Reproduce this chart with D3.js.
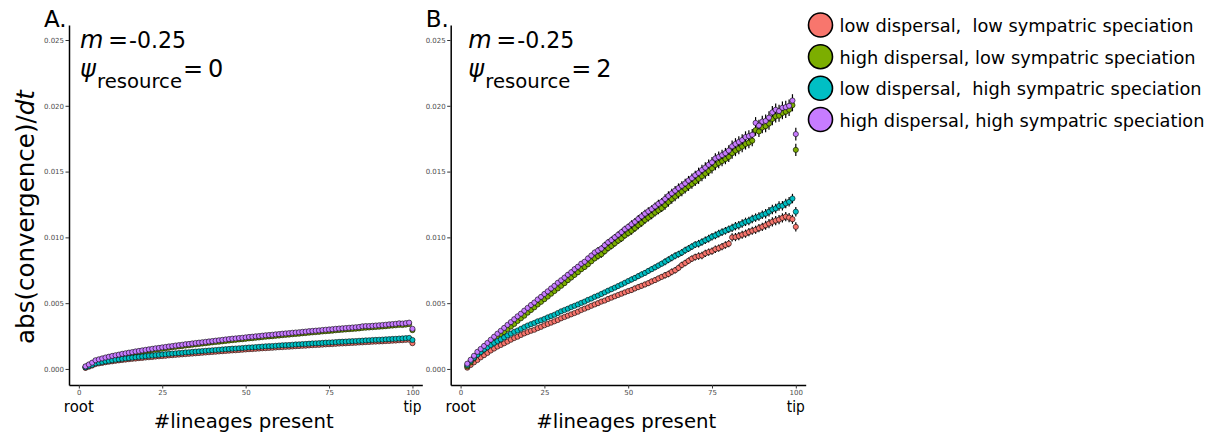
<!DOCTYPE html>
<html><head><meta charset="utf-8">
<script src="https://cdn.jsdelivr.net/npm/d3@7"></script>
<style>body{margin:0;background:#fff} svg text{font-family:"DejaVu Sans",sans-serif}</style>
</head><body><svg id="c" width="1211" height="437"></svg>
<script>
// ---- data ----
const lineages = [2,3,4,5,6,7,8,9,10,11,
12,13,14,15,16,17,18,19,20,21,
22,23,24,25,26,27,28,29,30,31,
32,33,34,35,36,37,38,39,40,41,
42,43,44,45,46,47,48,49,50,51,
52,53,54,55,56,57,58,59,60,61,
62,63,64,65,66,67,68,69,70,71,
72,73,74,75,76,77,78,79,80,81,
82,83,84,85,86,87,88,89,90,91,
92,93,94,95,96,97,98,99,100];

const seriesNames = ["low dispersal,  low sympatric speciation","high dispersal, low sympatric speciation","low dispersal,  high sympatric speciation","high dispersal, high sympatric speciation"];
const seriesColors = ["#F8766D","#7CAE00","#00BFC4","#C77CFF"];
const yTicks = [0,0.005,0.01,0.015,0.02,0.025];
const yTickLabels = ["0.000","0.005","0.010","0.015","0.020","0.025"];
const xTicks = [0,25,50,75,100];
const xTickLabels = ["0","25","50","75","100"];
const panelLabels = ["A.","B."];
const mValues = ["-0.25","-0.25"];
const psiValues = ["0","2"];

// Panel A (psi_resource = 0)
const A_lowDisp_lowSym = [0.00008,0.00017,0.00026,0.00037,0.00042,0.00046,0.00051,0.00055,0.00058,0.00062,
0.00065,0.00068,0.00071,0.00074,0.00077,0.00079,0.00082,0.00084,0.00087,0.00089,
0.00091,0.00094,0.00096,0.00098,0.00100,0.00103,0.00105,0.00107,0.00109,0.00111,
0.00113,0.00115,0.00117,0.00119,0.00121,0.00123,0.00125,0.00127,0.00129,0.00131,
0.00133,0.00135,0.00137,0.00139,0.00141,0.00142,0.00144,0.00146,0.00148,0.00150,
0.00151,0.00153,0.00155,0.00157,0.00158,0.00160,0.00161,0.00163,0.00165,0.00166,
0.00168,0.00169,0.00171,0.00173,0.00174,0.00176,0.00177,0.00179,0.00181,0.00182,
0.00183,0.00185,0.00187,0.00188,0.00189,0.00191,0.00193,0.00194,0.00195,0.00197,
0.00198,0.00199,0.00201,0.00202,0.00204,0.00205,0.00207,0.00208,0.00209,0.00210,
0.00212,0.00213,0.00215,0.00216,0.00218,0.00219,0.00221,0.00222,0.00196];
const A_highDisp_lowSym = [0.00016,0.00029,0.00042,0.00059,0.00066,0.00073,0.00080,0.00086,0.00092,0.00096,
0.00101,0.00106,0.00111,0.00115,0.00119,0.00124,0.00128,0.00132,0.00136,0.00140,
0.00144,0.00147,0.00151,0.00154,0.00158,0.00161,0.00165,0.00168,0.00171,0.00174,
0.00178,0.00180,0.00184,0.00187,0.00190,0.00193,0.00196,0.00199,0.00202,0.00205,
0.00207,0.00210,0.00213,0.00216,0.00219,0.00221,0.00224,0.00226,0.00229,0.00232,
0.00234,0.00237,0.00239,0.00242,0.00245,0.00247,0.00249,0.00252,0.00254,0.00257,
0.00259,0.00261,0.00264,0.00266,0.00268,0.00271,0.00273,0.00276,0.00278,0.00280,
0.00282,0.00285,0.00287,0.00289,0.00291,0.00294,0.00296,0.00298,0.00300,0.00302,
0.00304,0.00306,0.00308,0.00312,0.00314,0.00315,0.00317,0.00319,0.00321,0.00323,
0.00325,0.00328,0.00330,0.00332,0.00335,0.00334,0.00337,0.00341,0.00295];
const A_lowDisp_highSym = [0.00012,0.00022,0.00031,0.00043,0.00048,0.00053,0.00058,0.00062,0.00066,0.00070,
0.00073,0.00077,0.00080,0.00083,0.00086,0.00089,0.00092,0.00094,0.00097,0.00100,
0.00102,0.00105,0.00107,0.00110,0.00112,0.00115,0.00117,0.00119,0.00121,0.00123,
0.00126,0.00127,0.00130,0.00132,0.00134,0.00136,0.00138,0.00140,0.00142,0.00144,
0.00146,0.00148,0.00150,0.00152,0.00154,0.00155,0.00157,0.00159,0.00161,0.00163,
0.00164,0.00166,0.00168,0.00170,0.00172,0.00173,0.00174,0.00176,0.00178,0.00180,
0.00181,0.00182,0.00184,0.00186,0.00187,0.00189,0.00190,0.00192,0.00194,0.00195,
0.00196,0.00198,0.00200,0.00201,0.00202,0.00204,0.00206,0.00207,0.00208,0.00210,
0.00211,0.00212,0.00214,0.00215,0.00217,0.00218,0.00220,0.00221,0.00222,0.00223,
0.00225,0.00226,0.00228,0.00229,0.00231,0.00232,0.00234,0.00236,0.00220];
const A_highDisp_highSym = [0.00020,0.00034,0.00048,0.00066,0.00073,0.00080,0.00087,0.00093,0.00099,0.00104,
0.00109,0.00115,0.00119,0.00124,0.00128,0.00133,0.00137,0.00141,0.00145,0.00149,
0.00153,0.00157,0.00160,0.00164,0.00167,0.00171,0.00174,0.00178,0.00181,0.00184,
0.00188,0.00190,0.00194,0.00197,0.00200,0.00203,0.00206,0.00209,0.00212,0.00215,
0.00218,0.00221,0.00224,0.00227,0.00230,0.00232,0.00235,0.00237,0.00240,0.00243,
0.00245,0.00248,0.00250,0.00253,0.00256,0.00258,0.00260,0.00263,0.00265,0.00268,
0.00270,0.00272,0.00275,0.00277,0.00279,0.00282,0.00284,0.00287,0.00289,0.00291,
0.00293,0.00296,0.00298,0.00300,0.00302,0.00305,0.00307,0.00309,0.00311,0.00313,
0.00315,0.00317,0.00319,0.00324,0.00326,0.00326,0.00328,0.00330,0.00332,0.00334,
0.00336,0.00339,0.00341,0.00343,0.00347,0.00345,0.00348,0.00352,0.00305];

// Panel B (psi_resource = 2)
const B_lowDisp_lowSym = [0.00010,0.00030,0.00050,0.00068,0.00088,0.00105,0.00122,0.00140,0.00155,0.00170,
0.00182,0.00195,0.00208,0.00222,0.00235,0.00245,0.00258,0.00270,0.00280,0.00290,
0.00298,0.00310,0.00320,0.00332,0.00342,0.00352,0.00362,0.00372,0.00385,0.00395,
0.00405,0.00415,0.00425,0.00435,0.00448,0.00458,0.00468,0.00480,0.00490,0.00500,
0.00512,0.00520,0.00532,0.00542,0.00552,0.00562,0.00572,0.00582,0.00592,0.00600,
0.00612,0.00622,0.00632,0.00642,0.00652,0.00665,0.00675,0.00688,0.00700,0.00712,
0.00722,0.00738,0.00750,0.00768,0.00790,0.00805,0.00822,0.00838,0.00850,0.00858,
0.00862,0.00878,0.00888,0.00895,0.00910,0.00918,0.00930,0.00942,0.00952,0.01000,
0.01002,0.01010,0.01020,0.01028,0.01040,0.01050,0.01058,0.01070,0.01080,0.01092,
0.01105,0.01118,0.01128,0.01135,0.01148,0.01158,0.01150,0.01138,0.01080];
const B_highDisp_lowSym = [0.00020,0.00050,0.00080,0.00110,0.00130,0.00152,0.00175,0.00195,0.00218,0.00240,
0.00260,0.00280,0.00303,0.00322,0.00342,0.00365,0.00385,0.00405,0.00428,0.00448,
0.00468,0.00490,0.00510,0.00530,0.00550,0.00572,0.00592,0.00612,0.00632,0.00652,
0.00675,0.00695,0.00715,0.00735,0.00758,0.00775,0.00795,0.00818,0.00840,0.00858,
0.00872,0.00895,0.00918,0.00935,0.00955,0.00975,0.00992,0.01015,0.01032,0.01050,
0.01070,0.01092,0.01110,0.01132,0.01150,0.01168,0.01188,0.01205,0.01222,0.01245,
0.01268,0.01290,0.01310,0.01330,0.01348,0.01368,0.01388,0.01405,0.01425,0.01445,
0.01465,0.01485,0.01505,0.01525,0.01550,0.01565,0.01580,0.01595,0.01612,0.01640,
0.01660,0.01675,0.01690,0.01710,0.01720,0.01735,0.01815,0.01805,0.01835,0.01845,
0.01865,0.01900,0.01920,0.01925,0.01945,0.01955,0.01970,0.02005,0.01665];
const B_lowDisp_highSym = [0.00030,0.00060,0.00085,0.00108,0.00128,0.00148,0.00165,0.00182,0.00198,0.00212,
0.00225,0.00240,0.00255,0.00268,0.00282,0.00292,0.00305,0.00318,0.00330,0.00340,
0.00350,0.00362,0.00370,0.00380,0.00392,0.00402,0.00412,0.00425,0.00438,0.00448,
0.00458,0.00470,0.00480,0.00490,0.00502,0.00512,0.00525,0.00535,0.00548,0.00558,
0.00570,0.00582,0.00595,0.00606,0.00618,0.00630,0.00642,0.00655,0.00668,0.00680,
0.00692,0.00705,0.00718,0.00730,0.00745,0.00758,0.00772,0.00786,0.00800,0.00815,
0.00830,0.00845,0.00860,0.00872,0.00885,0.00902,0.00915,0.00930,0.00945,0.00952,
0.00965,0.00978,0.00990,0.01005,0.01015,0.01028,0.01040,0.01050,0.01062,0.01072,
0.01085,0.01092,0.01105,0.01118,0.01125,0.01140,0.01150,0.01158,0.01172,0.01180,
0.01195,0.01212,0.01220,0.01238,0.01240,0.01258,0.01270,0.01295,0.01195];
const B_highDisp_highSym = [0.00040,0.00070,0.00100,0.00130,0.00152,0.00175,0.00198,0.00222,0.00245,0.00268,
0.00290,0.00312,0.00335,0.00356,0.00378,0.00400,0.00420,0.00443,0.00464,0.00486,
0.00505,0.00528,0.00548,0.00570,0.00590,0.00612,0.00632,0.00655,0.00674,0.00694,
0.00716,0.00735,0.00758,0.00777,0.00800,0.00815,0.00840,0.00862,0.00885,0.00900,
0.00915,0.00940,0.00962,0.00980,0.01000,0.01020,0.01040,0.01062,0.01080,0.01100,
0.01118,0.01140,0.01160,0.01180,0.01198,0.01215,0.01235,0.01255,0.01270,0.01292,
0.01315,0.01335,0.01355,0.01375,0.01392,0.01410,0.01432,0.01450,0.01472,0.01490,
0.01512,0.01530,0.01552,0.01570,0.01600,0.01612,0.01625,0.01640,0.01660,0.01692,
0.01710,0.01725,0.01740,0.01762,0.01770,0.01780,0.01870,0.01850,0.01880,0.01885,
0.01910,0.01950,0.01970,0.01960,0.01985,0.01990,0.02000,0.02040,0.01785];

// error half-widths, one value per block of ten lineages (1-10, 11-20, ..., 91-100)
const A_err_lowDisp_lowSym   = [0.00002,0.00003,0.00003,0.00004,0.00004,0.00005,0.00005,0.00006,0.00006,0.00007];
const A_err_highDisp_lowSym  = [0.00003,0.00004,0.00004,0.00005,0.00005,0.00006,0.00006,0.00007,0.00008,0.00009];
const A_err_lowDisp_highSym  = [0.00002,0.00003,0.00003,0.00004,0.00004,0.00005,0.00005,0.00006,0.00006,0.00007];
const A_err_highDisp_highSym = [0.00003,0.00004,0.00004,0.00005,0.00005,0.00006,0.00006,0.00007,0.00008,0.00009];
const B_err_lowDisp_lowSym   = [0.00006,0.00009,0.00012,0.00015,0.00018,0.00021,0.00025,0.00028,0.00031,0.00035];
const B_err_highDisp_lowSym  = [0.00008,0.00012,0.00017,0.00021,0.00026,0.00030,0.00035,0.00039,0.00043,0.00047];
const B_err_lowDisp_highSym  = [0.00006,0.00009,0.00012,0.00015,0.00018,0.00022,0.00026,0.00029,0.00032,0.00036];
const B_err_highDisp_highSym = [0.00008,0.00012,0.00017,0.00021,0.00026,0.00030,0.00035,0.00040,0.00044,0.00048];

// ---- drawing ----
const svg = d3.select("#c");
const yScale = d3.scaleLinear().domain([-0.00122, 0.02614]).range([385, 25]);

const panels = [
  {label: panelLabels[0], x0: 69, x1: 422.3, m: mValues[0], psi: psiValues[0],
   values: [A_lowDisp_lowSym, A_highDisp_lowSym, A_lowDisp_highSym, A_highDisp_highSym],
   errors: [A_err_lowDisp_lowSym, A_err_highDisp_lowSym, A_err_lowDisp_highSym, A_err_highDisp_highSym],
   annX: 80},
  {label: panelLabels[1], x0: 450.7, x1: 805.7, m: mValues[1], psi: psiValues[1],
   values: [B_lowDisp_lowSym, B_highDisp_lowSym, B_lowDisp_highSym, B_highDisp_highSym],
   errors: [B_err_lowDisp_lowSym, B_err_highDisp_lowSym, B_err_lowDisp_highSym, B_err_highDisp_highSym],
   annX: 468.3}
];

panels.forEach((p, pi) => {
  const x = d3.scaleLinear().domain([-2.95, 102.95]).range([p.x0, p.x1]);
  const g = svg.append("g");

  // axes
  const yAxis = d3.axisLeft(yScale).tickValues(yTicks).tickFormat((d, i) => yTickLabels[i])
    .tickSizeInner(3.5).tickSizeOuter(0).tickPadding(1.5);
  const ya = g.append("g").attr("transform", `translate(${p.x0},0)`).call(yAxis);
  const xAxis = d3.axisBottom(x).tickValues(xTicks).tickFormat((d, i) => xTickLabels[i])
    .tickSizeInner(3.5).tickSizeOuter(0).tickPadding(1);
  const xa = g.append("g").attr("transform", `translate(0,385)`).call(xAxis);
  [ya, xa].forEach(a => {
    a.select(".domain").attr("stroke", "#000").attr("stroke-width", 1.5);
    a.selectAll(".tick line").attr("stroke", "#333").attr("stroke-width", 1);
    a.selectAll(".tick text").attr("fill", "#4D4D4D").style("font-size", "7px")
      .style("font-family", "DejaVu Sans, sans-serif");
  });
  xa.selectAll(".tick text").attr("dy", "0.8em");

  // error bars
  const eg = g.append("g");
  p.values.forEach((vals, si) => {
    eg.selectAll(null).data(vals).enter().append("line")
      .attr("x1", (d, i) => x(lineages[i])).attr("x2", (d, i) => x(lineages[i]))
      .attr("y1", (d, i) => yScale(d - p.errors[si][Math.min(9, Math.floor((lineages[i] - 1) / 10))]))
      .attr("y2", (d, i) => yScale(d + p.errors[si][Math.min(9, Math.floor((lineages[i] - 1) / 10))]))
      .attr("stroke", "#000").attr("stroke-width", 1.2);
  });
  // points
  p.values.forEach((vals, si) => {
    g.append("g").selectAll("circle").data(vals).enter().append("circle")
      .attr("cx", (d, i) => x(lineages[i])).attr("cy", d => yScale(d))
      .attr("r", 2.6).attr("fill", seriesColors[si])
      .attr("stroke", "#000").attr("stroke-width", 0.6);
  });

  // panel label
  svg.append("text").attr("x", p.x0 - 25).attr("y", 27).style("font-size", "23px").text(p.label);

  // annotation
  const ax = p.annX;
  svg.append("text").attr("x", ax).attr("y", 48).style("font-size", "24px").style("font-style", "italic").text("m");
  svg.append("text").attr("x", ax + 28).attr("y", 48).style("font-size", "24px").text("=");
  svg.append("text").attr("x", ax + 49).attr("y", 48).style("font-size", "23px")
    .attr("textLength", 57).attr("lengthAdjust", "spacingAndGlyphs").text(p.m);
  svg.append("text").attr("x", ax).attr("y", 77).style("font-size", "24px").style("font-style", "italic").text("\u03C8");
  svg.append("text").attr("x", ax + 17).attr("y", 88).style("font-size", "19px")
    .attr("textLength", 85).attr("lengthAdjust", "spacingAndGlyphs").text("resource");
  svg.append("text").attr("x", ax + 103).attr("y", 77).style("font-size", "24px").text("=");
  svg.append("text").attr("x", ax + 128).attr("y", 77).style("font-size", "24px").text(p.psi);

  // x labels
  svg.append("text").attr("x", x(0)).attr("y", 411.7).attr("text-anchor", "middle").style("font-size", "15px")
    .attr("textLength", 30).attr("lengthAdjust", "spacingAndGlyphs").text("root");
  svg.append("text").attr("x", x(100)).attr("y", 411.7).attr("text-anchor", "middle").style("font-size", "15px")
    .attr("textLength", 18).attr("lengthAdjust", "spacingAndGlyphs").text("tip");
  svg.append("text").attr("x", (p.x0 + p.x1) / 2 - 2).attr("y", 428).attr("text-anchor", "middle").style("font-size", "20px")
    .attr("textLength", 180).attr("lengthAdjust", "spacingAndGlyphs").text("#lineages present");
});

// y axis title
const yt = svg.append("text").attr("transform", "translate(34,217) rotate(-90)").attr("text-anchor", "middle")
  .style("font-size", "24.5px");
yt.append("tspan").text("abs(convergence)/");
yt.append("tspan").style("font-style", "italic").text("dt");

// legend
const lg = svg.append("g");
const rowY = [25, 56.7, 88.3, 119.5];
const rowW = [354, 356, 362, 365];
seriesNames.forEach((name, i) => {
  lg.append("circle").attr("cx", 820.5).attr("cy", rowY[i]).attr("r", 12)
    .attr("fill", seriesColors[i]).attr("stroke", "#000").attr("stroke-width", 1.6);
  lg.append("text").attr("x", 839.5).attr("y", rowY[i] + 7).style("font-size", "17.7px")
    .style("white-space", "pre").attr("textLength", rowW[i]).attr("lengthAdjust", "spacingAndGlyphs").text(name);
});
</script></body></html>
